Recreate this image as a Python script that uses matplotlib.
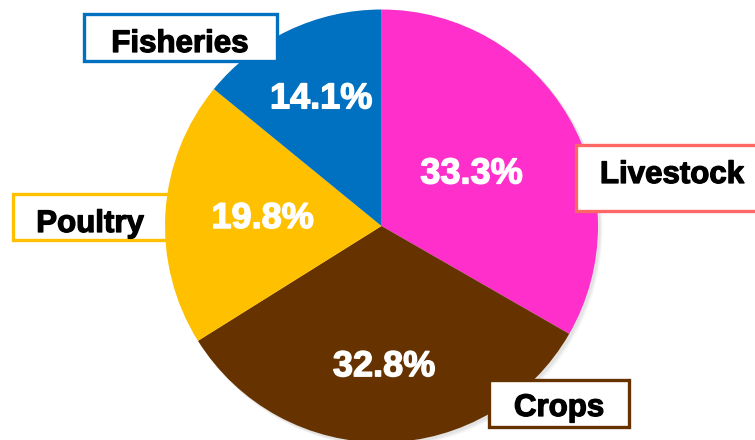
import numpy as np
import matplotlib
matplotlib.use("Agg")
import matplotlib.pyplot as plt
import matplotlib.patheffects as pe
from matplotlib.patches import Rectangle, Circle

categories = ["Livestock", "Crops", "Poultry", "Fisheries"]
values = [33.3, 32.8, 19.8, 14.1]
pct_labels = ["33.3%", "32.8%", "19.8%", "14.1%"]
colors = ["#FF2FCB", "#663300", "#FFC000", "#0070C0"]
border_colors = ["#FF6666", "#663300", "#FFC000", "#0070C0"]

plt.rcParams['font.family'] = ['Liberation Sans', 'DejaVu Sans']

W, H = 755, 440
fig = plt.figure(figsize=(W / 100, H / 100), dpi=100)
ax = fig.add_axes([0, 0, 1, 1])

cx, cy, r = 381.5, H - 226, 216.5

# label boxes (pixel coords: x0, y0_top, x1, y1_bottom), zorder
boxes = {
    "Fisheries": (84, 14, 277, 61, 6),
    "Livestock": (576, 145, 762, 211, 6),
    "Poultry": (13, 194, 175, 240, 1),
    "Crops": (489, 380, 629, 427, 6),
}
text_pos = {
    "Fisheries": (180, 44),
    "Livestock": (672, 175),
    "Poultry": (90, 224),
    "Crops": (559, 408),
}

# soft shadow
for i, a in enumerate([0.10, 0.08, 0.06]):
    ax.add_patch(Circle((cx + 2 + i, cy - 2 - i), r + 0.5, facecolor="#888888",
                        edgecolor="none", alpha=a, zorder=2))

wedges, _ = ax.pie(values, colors=colors, startangle=90, counterclock=False,
                   center=(cx, cy), radius=r, frame=True,
                   wedgeprops=dict(linewidth=0))
for w in wedges:
    w.set_zorder(3)

for cat, bc in zip(categories, border_colors):
    x0, y0, x1, y1, z = boxes[cat]
    ax.add_patch(Rectangle((x0, H - y1), x1 - x0, y1 - y0, facecolor="white",
                           edgecolor=bc, linewidth=2.4, zorder=z))
    tx, ty = text_pos[cat]
    ax.text(tx, H - ty, cat, ha="center", va="center", fontsize=22.5,
            fontweight="bold", color="black", zorder=z + 1,
            path_effects=[pe.withStroke(linewidth=0.9, foreground="black")])

dists = [0.48, 0.65, 0.55, 0.65]
for w, lab, d in zip(wedges, pct_labels, dists):
    ang = np.deg2rad((w.theta1 + w.theta2) / 2)
    ax.text(cx + d * r * np.cos(ang), cy + d * r * np.sin(ang), lab,
            ha="center", va="center", fontsize=26, fontweight="bold",
            color="white", zorder=5,
            path_effects=[pe.withStroke(linewidth=1.0, foreground="white")])

ax.set_xlim(0, W)
ax.set_ylim(0, H)
ax.set_aspect("equal")
ax.axis("off")

fig.savefig("out.png", dpi=100)
